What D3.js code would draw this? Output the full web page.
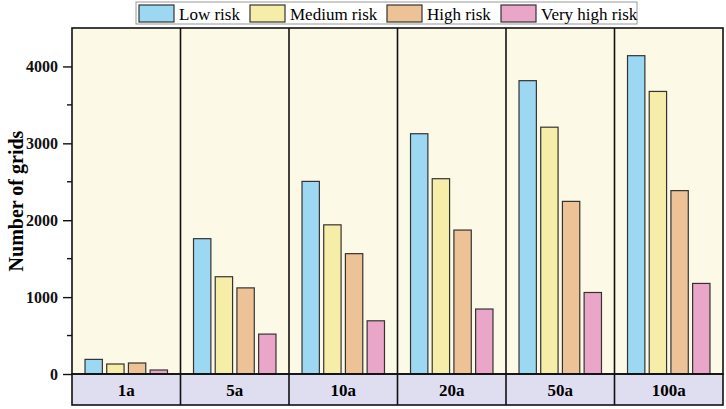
<!DOCTYPE html>
<html>
<head>
<meta charset="utf-8">
<script src="https://cdn.jsdelivr.net/npm/d3@7"></script>
<style>
    body { margin: 0; background: #fff; }
    text { font-family: "Liberation Serif", "Times New Roman", serif; }
</style>
</head>
<body>
<div id="container"></div>
<script>
// periods (return periods) and risk levels
const periods = ["1a", "5a", "10a", "20a", "50a", "100a"];
const levels = ["Low risk", "Medium risk", "High risk", "Very high risk"];
const colors = ["#9dd8f2", "#f6eda9", "#edc296", "#eaa6c8"];

// values, one array per risk level
const lowRisk = [190, 1760, 2505, 3125, 3815, 4140];
const mediumRisk = [130, 1265, 1940, 2540, 3210, 3675];
const highRisk = [143, 1120, 1565, 1872, 2245, 2385];
const veryHighRisk = [52, 519, 692, 845, 1060, 1178];

const yTicks = [0, 1000, 2000, 3000, 4000];
const yMinorTicks = [500, 1500, 2500, 3500];

const series = [lowRisk, mediumRisk, highRisk, veryHighRisk];

const width = 726;
const height = 409;
const marginTop = 28;
const marginRight = 3;
const marginBottom = 35;
const marginLeft = 72;
const stripHeight = 31;

const svg = d3.select("#container").append("svg")
    .attr("width", width)
    .attr("height", height);

// outer scale: one panel per period
const x = d3.scaleBand()
    .domain(periods)
    .range([marginLeft, width - marginRight])
    .padding(0);

// inner scale: bars inside a panel
const xInner = d3.scaleBand()
    .domain(levels)
    .range([0, x.bandwidth()])
    .paddingInner(0.2)
    .paddingOuter(0.6);

const y = d3.scaleLinear()
    .domain([0, 4500])
    .range([height - marginBottom, marginTop]);

const plotBottom = y(0);

// plot background
svg.append("rect")
    .attr("x", marginLeft)
    .attr("y", marginTop)
    .attr("width", width - marginRight - marginLeft)
    .attr("height", plotBottom - marginTop)
    .attr("fill", "#fdf9e7");

// category strip
svg.append("rect")
    .attr("x", marginLeft)
    .attr("y", plotBottom)
    .attr("width", width - marginRight - marginLeft)
    .attr("height", stripHeight)
    .attr("fill", "#dfddf0");

// bars
const rows = [];
periods.forEach((p, i) => {
    levels.forEach((l, j) => {
        rows.push({ period: p, level: l, value: series[j][i], color: colors[j] });
    });
});

svg.append("g")
    .selectAll("rect")
    .data(rows)
    .join("rect")
    .attr("x", d => x(d.period) + xInner(d.level))
    .attr("y", d => y(d.value))
    .attr("width", xInner.bandwidth())
    .attr("height", d => plotBottom - y(d.value))
    .attr("fill", d => d.color)
    .attr("stroke", "#333")
    .attr("stroke-width", 1.2);

// panel separators
svg.append("g")
    .selectAll("line")
    .data(periods.slice(1))
    .join("line")
    .attr("x1", d => x(d))
    .attr("x2", d => x(d))
    .attr("y1", marginTop)
    .attr("y2", plotBottom + stripHeight)
    .attr("stroke", "#111")
    .attr("stroke-width", 1.6);

// frames
svg.append("rect")
    .attr("x", marginLeft)
    .attr("y", marginTop)
    .attr("width", width - marginRight - marginLeft)
    .attr("height", plotBottom - marginTop)
    .attr("fill", "none")
    .attr("stroke", "#111")
    .attr("stroke-width", 1.6);

svg.append("rect")
    .attr("x", marginLeft)
    .attr("y", plotBottom)
    .attr("width", width - marginRight - marginLeft)
    .attr("height", stripHeight)
    .attr("fill", "none")
    .attr("stroke", "#111")
    .attr("stroke-width", 1.6);

// category labels
svg.append("g")
    .selectAll("text")
    .data(periods)
    .join("text")
    .attr("x", d => x(d) + x.bandwidth() / 2)
    .attr("y", plotBottom + stripHeight / 2)
    .attr("dy", "0.36em")
    .attr("text-anchor", "middle")
    .style("font-size", "17px")
    .style("font-weight", "bold")
    .text(d => d);

// y axis
const yAxis = svg.append("g")
    .attr("transform", `translate(${marginLeft},0)`)
    .attr("font-family", "Liberation Serif")
    .call(d3.axisLeft(y).tickValues(yTicks).tickSize(9).tickPadding(5).tickFormat(d3.format("d")));
yAxis.select(".domain").remove();
yAxis.selectAll(".tick line").attr("stroke", "#111").attr("stroke-width", 1.4);
yAxis.selectAll(".tick text")
    .attr("fill", "#111")
    .style("font-family", "'Liberation Serif', serif")
    .style("font-size", "16px")
    .style("font-weight", "bold");

svg.append("g")
    .selectAll("line")
    .data(yMinorTicks)
    .join("line")
    .attr("x1", marginLeft - 5)
    .attr("x2", marginLeft)
    .attr("y1", d => y(d))
    .attr("y2", d => y(d))
    .attr("stroke", "#111")
    .attr("stroke-width", 1.4);

// y axis title
svg.append("text")
    .attr("transform", `translate(16,${(marginTop + plotBottom) / 2}) rotate(-90)`)
    .attr("text-anchor", "middle")
    .attr("dy", "0.36em")
    .style("font-size", "20px")
    .style("font-weight", "bold")
    .text("Number of grids");

// legend
const legendX = [139, 250, 387, 501];
const legend = svg.append("g");
legend.append("rect")
    .attr("x", 136)
    .attr("y", 2)
    .attr("width", 501)
    .attr("height", 22)
    .attr("fill", "#fff")
    .attr("stroke", "#999")
    .attr("stroke-width", 1);

levels.forEach((l, j) => {
    legend.append("rect")
        .attr("x", legendX[j])
        .attr("y", 5)
        .attr("width", 35)
        .attr("height", 17)
        .attr("fill", colors[j])
        .attr("stroke", "#333")
        .attr("stroke-width", 1.2);
    legend.append("text")
        .attr("x", legendX[j] + 40)
        .attr("y", 14)
        .attr("dy", "0.36em")
        .style("font-size", "17px")
        .text(l);
});
</script>
</body>
</html>
